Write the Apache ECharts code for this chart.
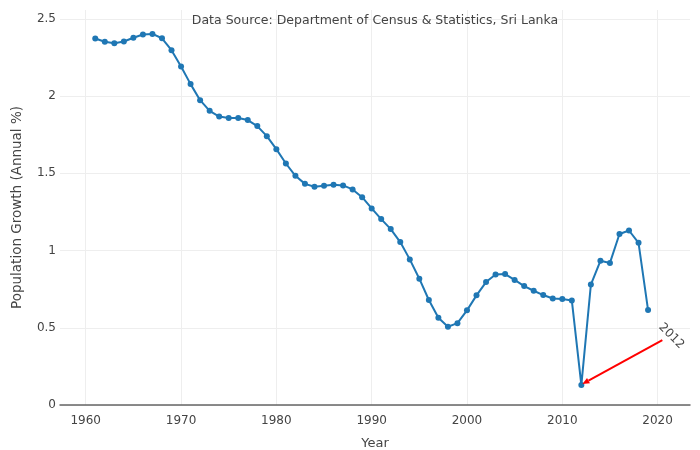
<!DOCTYPE html>
<html>
<head>
<meta charset="utf-8">
<script src="https://cdn.jsdelivr.net/npm/echarts@6/dist/echarts.min.js"></script>
<style>html,body{margin:0;padding:0;background:#fff}#c{width:700px;height:450px}</style>
</head>
<body>
<div id="c"></div>
<script>
var years = [1961,1962,1963,1964,1965,1966,1967,1968,1969,1970,1971,1972,1973,1974,1975,1976,1977,1978,1979,1980,1981,1982,1983,1984,1985,1986,1987,1988,1989,1990,1991,1992,1993,1994,1995,1996,1997,1998,1999,2000,2001,2002,2003,2004,2005,2006,2007,2008,2009,2010,2011,2012,2013,2014,2015,2016,2017,2018,2019];
var growth = [2.373,2.352,2.343,2.354,2.378,2.399,2.403,2.375,2.298,2.192,2.078,1.974,1.905,1.868,1.858,1.858,1.845,1.806,1.741,1.657,1.564,1.484,1.432,1.413,1.420,1.426,1.422,1.396,1.346,1.273,1.204,1.139,1.055,0.943,0.818,0.680,0.565,0.507,0.530,0.613,0.710,0.796,0.845,0.848,0.810,0.770,0.740,0.712,0.690,0.686,0.677,0.129,0.780,0.934,0.920,1.107,1.130,1.050,0.615];
var xTicks = [1960,1970,1980,1990,2000,2010,2020];
var yTicks = [0,0.5,1,1.5,2,2.5];
var noteYear = 2012;
var noteText = "2012";
var sourceText = "Data Source: Department of Census & Statistics, Sri Lanka";

var FONT = "DejaVu Sans";
var chart = echarts.init(document.getElementById('c'), null, {renderer: 'canvas'});
var pts = years.map(function (y, i) { return [y, growth[i]]; });

chart.setOption({
  animation: false,
  backgroundColor: '#fff',
  grid: {left: 60, right: 10, top: 10, bottom: 45, containLabel: false, outerBoundsMode: 'none'},
  xAxis: {
    type: 'value', min: 1957.3, max: 2023.4,
    name: 'Year', nameLocation: 'middle', nameGap: 32,
    nameTextStyle: {color: '#444', fontFamily: FONT, fontSize: 13},
    axisLine: {show: true, onZero: false, lineStyle: {color: '#666', width: 1.5}},
    axisTick: {show: false, customValues: xTicks},
    axisLabel: {customValues: xTicks, color: '#444', fontFamily: FONT, fontSize: 12, margin: 10,
      formatter: function (v) { return String(v); }},
    splitLine: {show: true, lineStyle: {color: '#eeeeee', width: 1}}
  },
  yAxis: {
    type: 'value', min: 0, max: 2.558,
    name: 'Population Growth (Annual %)', nameLocation: 'middle', nameGap: 36,
    nameTextStyle: {color: '#444', fontFamily: FONT, fontSize: 13.5},
    axisLine: {show: false},
    axisTick: {show: false, customValues: yTicks},
    axisLabel: {customValues: yTicks, color: '#444', fontFamily: FONT, fontSize: 12, margin: 4,
      formatter: function (v) { return String(v); }},
    splitLine: {show: true, lineStyle: {color: '#eeeeee', width: 1}}
  },
  series: [{
    type: 'line', data: pts,
    symbol: 'circle', symbolSize: 6, showSymbol: true,
    lineStyle: {color: '#1f77b4', width: 2},
    itemStyle: {color: '#1f77b4'},
    z: 3
  }]
});

var idx = years.indexOf(noteYear);
var p = chart.convertToPixel({gridIndex: 0}, [noteYear, growth[idx]]);
var headX = p[0] + 1, headY = p[1] - 1;
var tailX = p[0] + 81, tailY = p[1] - 45;
var ang = Math.atan2(tailY - headY, tailX - headX);
var hl = 7, hw = 3;
var bx = headX + Math.cos(ang) * hl, by = headY + Math.sin(ang) * hl;
var nx = -Math.sin(ang) * hw, ny = Math.cos(ang) * hw;
var plotCenter = chart.convertToPixel({gridIndex: 0}, [(1957.3 + 2023.4) / 2, 2.5]);

chart.setOption({
  graphic: [
    {type: 'line', shape: {x1: tailX, y1: tailY, x2: bx, y2: by}, style: {stroke: '#ff0000', lineWidth: 2}, z: 10},
    {type: 'polygon', shape: {points: [[headX, headY], [bx + nx, by + ny], [bx - nx, by - ny]]}, style: {fill: '#ff0000'}, z: 10},
    {type: 'text', x: tailX + 9, y: tailY - 4, rotation: -Math.PI / 4,
     style: {text: noteText, fill: '#444', font: '12px "DejaVu Sans"', align: 'center', verticalAlign: 'middle'}, z: 10},
    {type: 'text', x: plotCenter[0], y: 21,
     style: {text: sourceText, fill: '#444', font: '12.5px "DejaVu Sans"', align: 'center', verticalAlign: 'middle'}, z: 10}
  ]
});
</script>
</body>
</html>
